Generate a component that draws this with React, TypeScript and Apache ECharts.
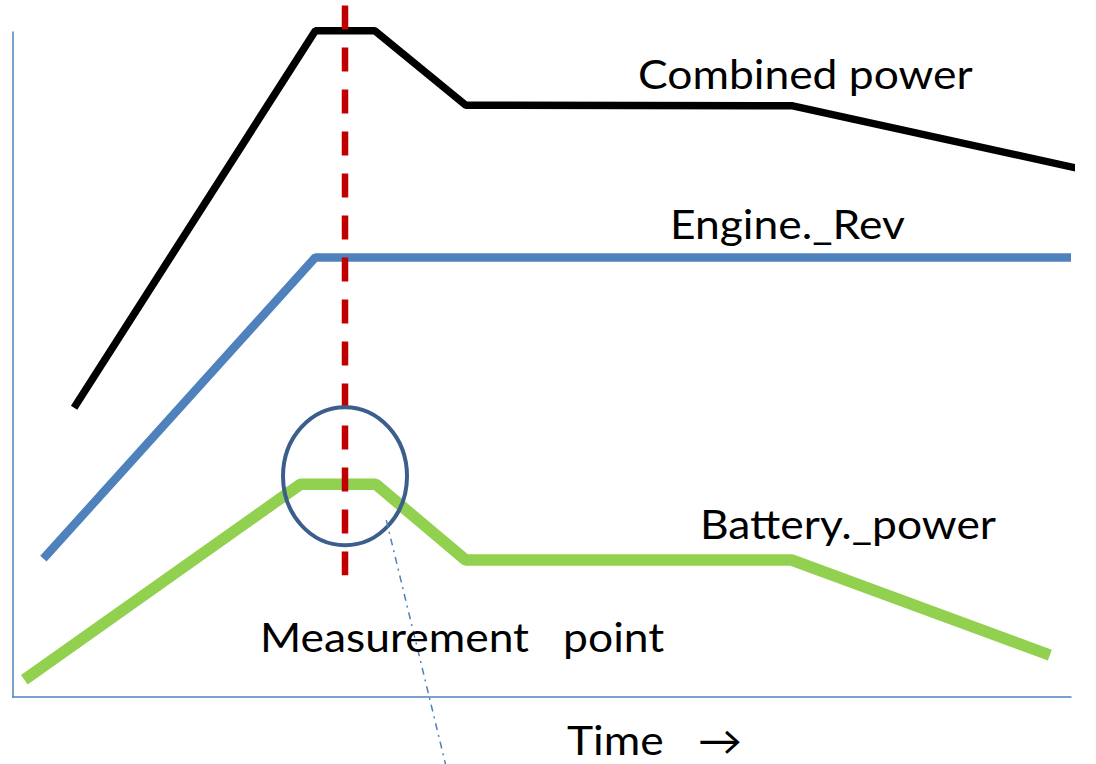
import React, { useEffect, useRef } from "react";
import * as echarts from "echarts";

// Time axis: 0..100 (arbitrary units), value axis: 0..100 (arbitrary units)
const combinedPower: [number, number][] = [
  [5.8, 43.5], [28.6, 100.2], [34.2, 100.2], [42.8, 89.0], [73.7, 88.9], [101.5, 79.2],
];
const engineRev: [number, number][] = [
  [2.9, 20.8], [28.6, 66.1], [100, 66.1],
];
const batteryPower: [number, number][] = [
  [1.1, 2.6], [27.2, 32.0], [34.3, 32.0], [42.8, 20.6], [73.6, 20.6], [98.0, 6.3],
];
const measurementLine: [number, number][] = [
  [31.4, 104.0], [31.4, 18.3],
];
const circleCenter: [number, number][] = [[31.4, 33.2]];
const pointerLine: [number, number][] = [
  [35.3, 26.6], [40.9, -10.1],
];

const labels = [
  { text: "Combined power", x: 638, y: 87 },
  { text: "Engine._Rev", x: 670, y: 237 },
  { text: "Battery._power", x: 700, y: 537 },
  { text: "Measurement   point", x: 260, y: 650 },
  { text: "Time   →", x: 567, y: 753 },
];

const FONT = "Lato, 'Open Sans', sans-serif";

export default function App() {
  const ref = useRef<HTMLDivElement>(null);
  useEffect(() => {
    if (!ref.current) return;
    const chart = echarts.init(ref.current, undefined, { renderer: "svg" });
    const axisCommon = {
      type: "value" as const,
      min: 0,
      max: 100,
      axisLine: { show: true, lineStyle: { color: "#4F81BD", width: 1.5 } },
      axisTick: { show: false },
      axisLabel: { show: false },
      splitLine: { show: false },
    };
    chart.setOption({
      animation: false,
      backgroundColor: "#ffffff",
      grid: { left: 12.7, right: 25, top: 32, bottom: 67 },
      xAxis: axisCommon,
      yAxis: axisCommon,
      series: [
        {
          type: "line",
          name: "Battery._power",
          data: batteryPower,
          symbol: "none",
          clip: false,
          lineStyle: { color: "#92D050", width: 11.5, cap: "butt", join: "bevel" },
          z: 2,
        },
        {
          type: "line",
          name: "Engine._Rev",
          data: engineRev,
          symbol: "none",
          clip: false,
          lineStyle: { color: "#4F81BD", width: 8.5, cap: "butt", join: "bevel" },
          z: 2,
        },
        {
          type: "line",
          name: "Combined power",
          data: combinedPower,
          symbol: "none",
          clip: false,
          lineStyle: { color: "#000000", width: 7.5, cap: "butt", join: "bevel" },
          z: 2,
        },
        {
          type: "line",
          name: "Measurement",
          data: measurementLine,
          symbol: "none",
          clip: false,
          lineStyle: { color: "#C00000", width: 6.5, type: [24, 18], cap: "butt" },
          z: 3,
        },
        {
          type: "custom",
          name: "circle",
          data: circleCenter,
          clip: false,
          z: 4,
          renderItem: (params: any, api: any) => {
            const p = api.coord([api.value(0), api.value(1)]);
            return {
              type: "ellipse",
              shape: { cx: p[0], cy: p[1], rx: 62, ry: 69 },
              style: { fill: "none", stroke: "#3B5E8C", lineWidth: 4 },
            };
          },
        },
        {
          type: "line",
          name: "pointer",
          data: pointerLine,
          symbol: "none",
          clip: false,
          lineStyle: { color: "#4F81BD", width: 1.5, type: [7, 5, 2, 5] },
          z: 4,
        },
      ],
      graphic: labels.map((l) => ({
        type: "text",
        x: l.x,
        y: l.y + 6,
        scaleX: 1.11,
        z: 10,
        style: {
          text: l.text,
          fill: "#000000",
          font: `40px ${FONT}`,
          textAlign: "left",
          textVerticalAlign: "bottom",
        },
      })),
    });
    return () => chart.dispose();
  }, []);
  return (
    <div
      ref={ref}
      style={{ position: "fixed", left: 0, top: 0, width: 1096, height: 764 }}
    />
  );
}
